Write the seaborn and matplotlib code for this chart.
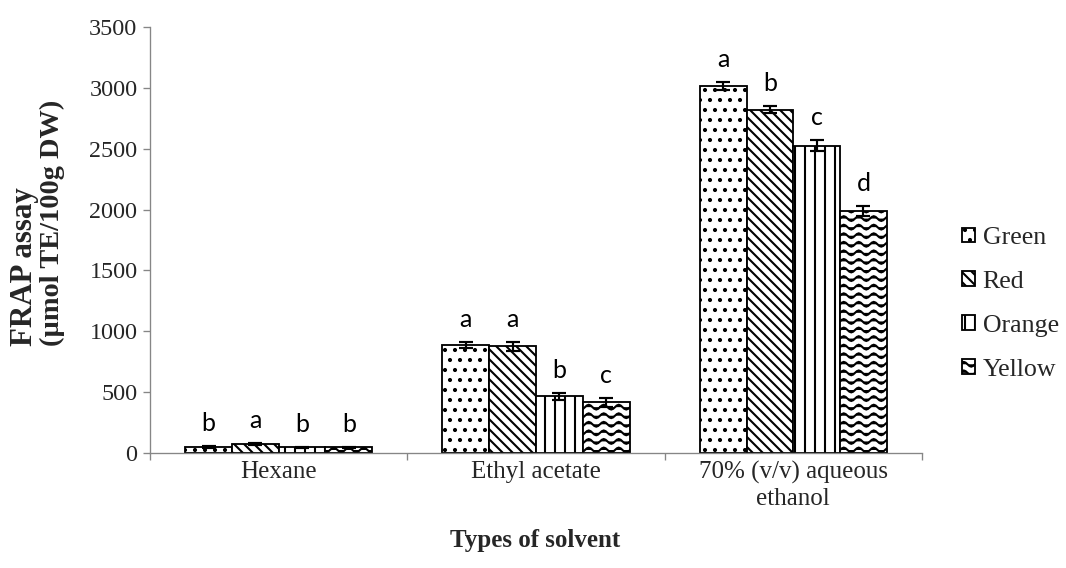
import warnings
import numpy as np
import pandas as pd
import matplotlib
matplotlib.use("Agg")
import matplotlib.pyplot as plt
import matplotlib.hatch as mhatch
from matplotlib.path import Path
import seaborn as sns

# ---- data -----------------------------------------------------------------
solvents = ["Hexane", "Ethyl acetate", "70% (v/v) aqueous\nethanol"]
extracts = ["Green", "Red", "Orange", "Yellow"]

green = [50, 890, 3015]
red = [72, 878, 2820]
orange = [47, 465, 2525]
yellow = [47, 415, 1990]

green_err = [6, 25, 30]
red_err = [7, 38, 28]
orange_err = [6, 32, 45]
yellow_err = [6, 35, 42]

green_letters = ["b", "a", "a"]
red_letters = ["a", "a", "b"]
orange_letters = ["b", "b", "c"]
yellow_letters = ["b", "c", "d"]

yticks = [0, 500, 1000, 1500, 2000, 2500, 3000, 3500]


# ---- wavy hatch pattern ('~') ---------------------------------------------
class WavyHatch(mhatch.HatchPatternBase):
    samples = 64

    def __init__(self, hatch, density):
        self.num_rows = hatch.count("~") * (density + 1)
        self.num_vertices = self.num_rows * (self.samples + 1)

    def set_vertices_and_codes(self, vertices, codes):
        n = self.samples + 1
        t = np.linspace(0.0, 1.0, n)
        wave = 0.02 * np.sin(2 * np.pi * 8 * t)
        for i in range(self.num_rows):
            y0 = (i + 0.5) / self.num_rows
            sl = slice(i * n, (i + 1) * n)
            vertices[sl, 0] = t
            vertices[sl, 1] = y0 + wave
            codes[sl] = Path.LINETO
            codes[i * n] = Path.MOVETO


mhatch._hatch_types.append(WavyHatch)
warnings.filterwarnings("ignore", message=".*hatch must consist.*")
warnings.filterwarnings("ignore", category=UserWarning)

# ---- style ----------------------------------------------------------------
sns.set_style("white")
plt.rcParams["font.family"] = ["Liberation Serif", "DejaVu Serif"]
plt.rcParams["hatch.color"] = "black"
plt.rcParams["hatch.linewidth"] = 1.25

values = {"Green": green, "Red": red, "Orange": orange, "Yellow": yellow}
errors = {"Green": green_err, "Red": red_err, "Orange": orange_err, "Yellow": yellow_err}
letters = {"Green": green_letters, "Red": red_letters,
           "Orange": orange_letters, "Yellow": yellow_letters}
hatches = {"Green": "..", "Red": "\\\\\\\\", "Orange": "||", "Yellow": "~~"}

df = pd.DataFrame(
    [(s, e, values[e][i]) for e in extracts for i, s in enumerate(solvents)],
    columns=["solvent", "extract", "frap"],
)

W, H, DPI = 1066, 568, 120
fig = plt.figure(figsize=(W / DPI, H / DPI), dpi=DPI)
ax = fig.add_axes([150 / W, 1 - 453 / H, 772 / W, 426 / H])

sns.barplot(
    data=df, x="solvent", y="frap", hue="extract",
    order=solvents, hue_order=extracts,
    palette={e: "white" for e in extracts},
    edgecolor="black", linewidth=1.1, width=0.727,
    errorbar=None, legend=False, ax=ax,
)

for ext, container in zip(extracts, ax.containers):
    for j, patch in enumerate(container.patches):
        patch.set_hatch(hatches[ext])
        patch.set_edgecolor("black")
        xc = patch.get_x() + patch.get_width() / 2
        h = patch.get_height()
        e = errors[ext][j]
        ax.errorbar(xc, h, yerr=e, fmt="none", ecolor="black",
                    elinewidth=1.3, capsize=4.0, capthick=1.3, zorder=5)
        ax.annotate(letters[ext][j], (xc, h + e), xytext=(0, 9),
                    textcoords="offset points", ha="center", va="baseline",
                    fontsize=15, family=["Lato", "DejaVu Sans"], color="black")

# ---- axes -----------------------------------------------------------------
ax.set_ylim(0, 3500)
ax.set_xlim(-0.5, 2.5)
ax.set_yticks(yticks)
ax.set_yticklabels([str(v) for v in yticks])
ax.set_xticks(range(len(solvents)))
ax.set_xticklabels(solvents, linespacing=1.2)
ax.set_xticks([-0.5, 0.5, 1.5, 2.5], minor=True)

spine_color = "#868686"
for side in ["top", "right"]:
    ax.spines[side].set_visible(False)
for side in ["left", "bottom"]:
    ax.spines[side].set_color(spine_color)
    ax.spines[side].set_linewidth(0.8)

ax.tick_params(axis="y", which="major", left=True, length=4, width=0.8,
               color=spine_color, labelsize=14.5, pad=3.5, direction="out")
ax.tick_params(axis="x", which="major", bottom=False, length=0,
               labelsize=15, pad=5)
ax.tick_params(axis="x", which="minor", bottom=True, length=4, width=0.8,
               color=spine_color, direction="out")

ax.set_xlabel("")
ax.set_ylabel("")
fig.text(535 / W, 1 - 541 / H, "Types of solvent", ha="center", va="center",
         fontsize=15, fontweight="bold")

# two-line y title, both lines starting at the same height
fig.text(25 / W, 1 - 346 / H, "FRAP assay", rotation=90,
         ha="center", va="bottom", fontsize=18.5, fontweight="bold")
fig.text(52 / W, 1 - 346 / H, "(\u00b5mol TE/100g DW)", rotation=90,
         ha="center", va="bottom", fontsize=17, fontweight="bold")

ax.legend(
    ax.containers, extracts,
    loc="center left", bbox_to_anchor=(962 / W, 1 - 304 / H),
    bbox_transform=fig.transFigure, frameon=False,
    fontsize=15.5, handlelength=0.5, handleheight=0.5,
    handletextpad=0.3, labelspacing=0.85, borderpad=0, borderaxespad=0,
)

fig.savefig("out.png", dpi=DPI, facecolor="white")
